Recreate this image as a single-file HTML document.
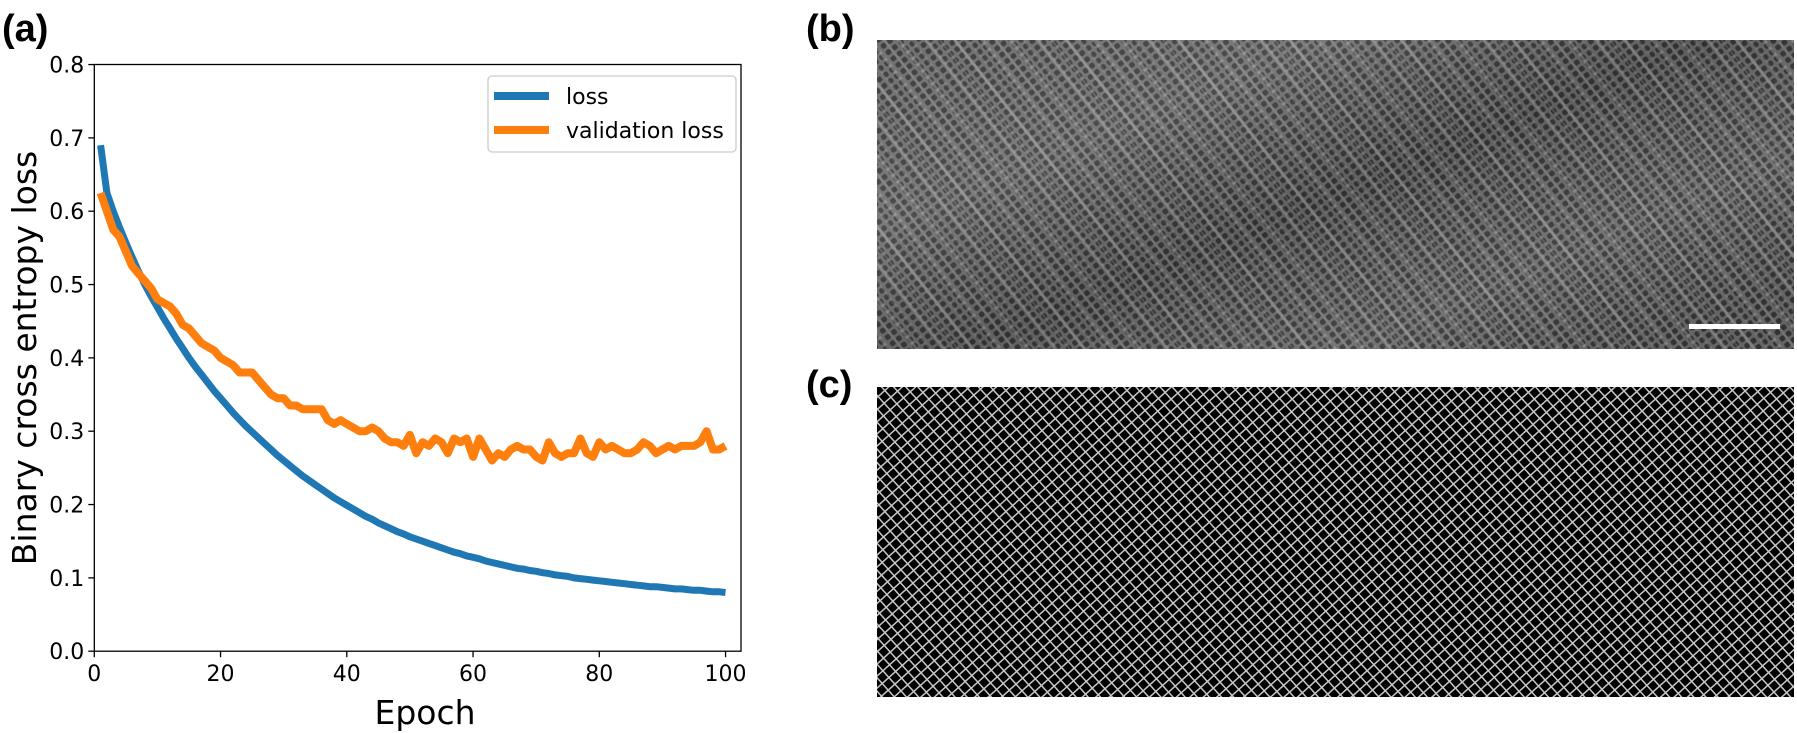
<!DOCTYPE html>
<html><head><meta charset="utf-8"><style>
html,body{margin:0;padding:0;background:#fff;}
svg{display:block;font-family:"DejaVu Sans","Liberation Sans",sans-serif;}
</style></head><body>
<svg id="fig" width="1797" height="733" viewBox="0 0 1797 733">
<defs>
<pattern id="cells" width="8" height="8" patternUnits="userSpaceOnUse" patternTransform="rotate(-38)">
<rect width="8" height="8" fill="#6a6a6a"/>
<rect x="1.4" y="1.4" width="5.4" height="5.4" rx="2" fill="#353535"/>
</pattern>
<pattern id="stripes" width="22" height="22" patternUnits="userSpaceOnUse" patternTransform="rotate(-38)">
<rect width="22" height="22" fill="none"/>
<rect x="0" y="0" width="3" height="22" fill="#c0c0c0" opacity="0.35"/>
<rect x="11" y="0" width="2" height="22" fill="#aaa" opacity="0.25"/>
</pattern>
<pattern id="mesh" width="9" height="9" patternUnits="userSpaceOnUse" patternTransform="rotate(-42)">
<rect width="9" height="9" fill="#000"/>
<rect x="0.5" y="0.5" width="8.5" height="8.5" fill="none" stroke="#c8c8c8" stroke-width="1"/>
</pattern>
<linearGradient id="band" x1="0" y1="0" x2="1" y2="0.8">
<stop offset="0" stop-color="#fff" stop-opacity="0.05"/>
<stop offset="0.3" stop-color="#fff" stop-opacity="0.12"/>
<stop offset="0.55" stop-color="#000" stop-opacity="0.1"/>
<stop offset="0.8" stop-color="#fff" stop-opacity="0.08"/>
<stop offset="1" stop-color="#000" stop-opacity="0.05"/>
</linearGradient>
</defs>

<text x="2" y="41" font-family="Liberation Sans, sans-serif" font-weight="bold" font-size="38">(a)</text>
<text x="806" y="41" font-family="Liberation Sans, sans-serif" font-weight="bold" font-size="38">(b)</text>
<text x="806" y="397" font-family="Liberation Sans, sans-serif" font-weight="bold" font-size="38">(c)</text>

<g>
<rect x="877" y="40" width="917" height="309" fill="url(#cells)"/>
<rect x="877" y="40" width="917" height="309" fill="url(#stripes)"/>
<rect x="877" y="40" width="917" height="309" fill="url(#band)"/>
<rect x="1689" y="324" width="91" height="5" fill="#fff"/>
</g>
<g>
<rect x="877" y="387" width="917" height="310" fill="url(#mesh)"/>
</g>

<g id="chart"></g>
</svg>
<script>
const epochs = Array.from({length:100},(_,i)=>i+1);
const lossValues = [.69,.625,.60,.578,.557,.537,.518,.50,.484,.469,
.454,.44,.426,.413,.40,.388,.377,.366,.355,.345,
.335,.325,.316,.307,.299,.291,.283,.275,.267,.26,
.253,.246,.239,.233,.227,.221,.215,.209,.204,.199,
.194,.189,.184,.18,.175,.171,.167,.163,.16,.156,
.153,.15,.147,.144,.141,.138,.135,.133,.13,.128,
.126,.123,.121,.119,.117,.115,.113,.112,.11,.109,
.107,.106,.104,.103,.102,.1,.099,.098,.097,.096,
.095,.094,.093,.092,.091,.09,.089,.088,.088,.087,
.086,.085,.085,.084,.083,.083,.082,.081,.081,.08];
const valLossValues = [.625,.60,.575,.565,.545,.525,.515,.505,.495,.48,
.475,.47,.46,.445,.44,.43,.42,.415,.41,.40,
.395,.39,.38,.38,.38,.37,.36,.35,.345,.345,
.335,.335,.33,.33,.33,.33,.315,.31,.315,.31,
.305,.30,.30,.305,.30,.29,.285,.285,.28,.295,
.27,.285,.28,.29,.285,.27,.29,.285,.29,.265,
.29,.275,.26,.27,.265,.275,.28,.275,.275,.265,
.26,.285,.27,.265,.27,.27,.29,.27,.265,.285,
.275,.28,.275,.27,.27,.275,.285,.28,.27,.275,
.28,.275,.28,.28,.28,.285,.30,.275,.275,.28];
const xTicks = [0,20,40,60,80,100];
const yTicks = [0.0,0.1,0.2,0.3,0.4,0.5,0.6,0.7,0.8];

const NS="http://www.w3.org/2000/svg";
const g=document.getElementById('chart');
const X0=94.3, XS=126.25/20, Y0=651.2, YS=73.33/0.1;
const L=94.3, R=741, T=64.5, B=651.2;
const xp=v=>X0+v*XS, yp=v=>Y0-v*YS;
function mk(tag,attrs,parent){const e=document.createElementNS(NS,tag);for(const k in attrs)e.setAttribute(k,attrs[k]);(parent||g).appendChild(e);return e;}

const clip=mk('clipPath',{id:'pc'});mk('rect',{x:L,y:T,width:R-L,height:B-T},clip);

function line(vals,color,w,name){
  const d=vals.map((v,i)=>(i?'L':'M')+xp(epochs[i]).toFixed(1)+','+yp(v).toFixed(1)).join('');
  const p=mk('path',{d:d,fill:'none',stroke:color,'stroke-width':w,'stroke-linejoin':'round','clip-path':'url(#pc)'});
  
  
}
line(lossValues,'#1f77b4',7,'loss-line');
line(valLossValues,'#ff7f0e',8,'validation-loss-line');

const frame=mk('rect',{x:L,y:T,width:R-L,height:B-T,fill:'none',stroke:'#000','stroke-width':1.3});



xTicks.forEach(t=>{
  mk('line',{x1:xp(t),x2:xp(t),y1:B,y2:B+6,stroke:'#000','stroke-width':1.3});
  const tx=mk('text',{x:xp(t),y:B+30,'text-anchor':'middle','font-size':22});
  tx.textContent=t;
  
  
});
yTicks.forEach(t=>{
  mk('line',{x1:L-6,x2:L,y1:yp(t),y2:yp(t),stroke:'#000','stroke-width':1.3});
  const tx=mk('text',{x:L-10,y:yp(t)+8,'text-anchor':'end','font-size':22});
  tx.textContent=t.toFixed(1);
  
  
});
const xl=mk('text',{x:425,y:724,'text-anchor':'middle','font-size':33});
xl.textContent='Epoch';


const yl=mk('text',{x:0,y:0,'text-anchor':'middle','font-size':33,transform:'translate(36,358) rotate(-90)'});
yl.textContent='Binary cross entropy loss';



const lg=mk('g',{});


mk('rect',{x:488,y:76,width:248,height:76,rx:4,fill:'#fff',stroke:'#ccc','stroke-width':1.3},lg);
[['loss','#1f77b4',96],['validation loss','#ff7f0e',130]].forEach(([lab,c,y])=>{
  const e=mk('g',{},lg);
  
  
  mk('line',{x1:494,x2:549,y1:y,y2:y,stroke:c,'stroke-width':8},e);
  const t=mk('text',{x:566,y:y+8,'font-size':22},e);t.textContent=lab;
});
</script>
</body></html>
